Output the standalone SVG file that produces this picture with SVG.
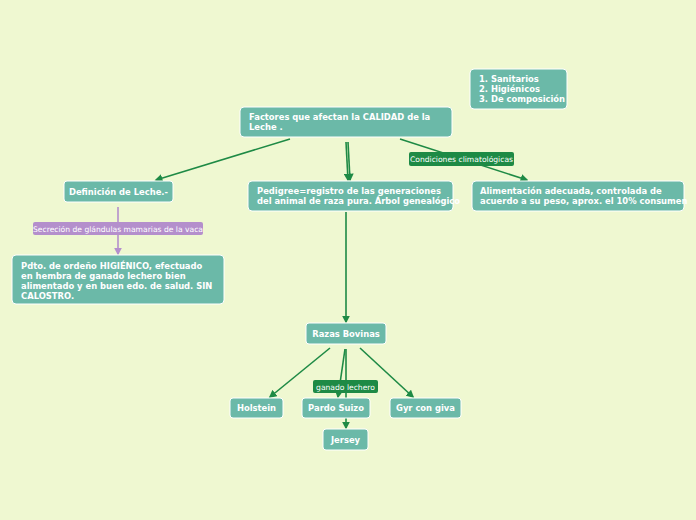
<svg xmlns="http://www.w3.org/2000/svg" width="696" height="520" viewBox="0 0 696 520">
<defs>
<style>
.n{fill:#6bb9a8;stroke:#fff;stroke-width:1}
.t{font-family:"DejaVu Sans",sans-serif;font-weight:bold;font-size:8.4px;fill:#fff}
.l{font-family:"DejaVu Sans",sans-serif;font-size:7.6px;fill:#fff}
.c{stroke:#1e8a45;stroke-width:1.6;fill:none;marker-end:url(#a)}
.p{stroke:#b48fcc;stroke-width:1.6;fill:none;marker-end:url(#ap)}
</style>
<marker id="a" viewBox="0 0 10 10" refX="8" refY="5" markerWidth="5" markerHeight="5" orient="auto"><path d="M0,0L10,5L0,10z" fill="#1e8a45"/></marker>
<marker id="ap" viewBox="0 0 10 10" refX="8" refY="5" markerWidth="5" markerHeight="5" orient="auto"><path d="M0,0L10,5L0,10z" fill="#b48fcc"/></marker>
</defs>
<rect width="696" height="520" fill="#eff8d1"/>
<g id="connectors">
<path class="c" d="M290,139L156,180"/>
<path class="c" d="M346,142L348,180"/>
<path class="c" d="M348,142L350,180"/>
<path class="c" d="M400,139L527,180"/>
<path class="p" d="M118,207L118,254"/>
<path class="c" d="M346,212L346,322"/>
<path class="c" d="M330,348L270,397"/>
<path class="c" d="M345,349L338,397"/>
<path class="c" d="M346,349L346,428"/>
<path class="c" d="M360,348L413,397"/>
<rect x="409" y="152" width="105" height="14" rx="2" fill="#1e8a45"/>
<text class="l" x="461.5" y="162" text-anchor="middle">Condiciones climatológicas</text>
<rect x="33" y="222" width="170" height="13" rx="2" fill="#b48fcc"/>
<text class="l" x="118" y="231.5" text-anchor="middle">Secreción de glándulas mamarias de la vaca</text>
<rect x="313" y="380" width="65" height="13" rx="2" fill="#1e8a45"/>
<text class="l" x="345.5" y="389.5" text-anchor="middle">ganado lechero</text>
</g>
<g id="factores"><rect class="n" x="240" y="107" width="212" height="30" rx="4"/><text class="t" x="249" y="120">Factores que afectan la CALIDAD de la</text><text class="t" x="249" y="130">Leche .</text></g>
<g id="tipos"><rect class="n" x="470" y="69" width="97" height="40" rx="4"/><text class="t" x="479" y="82">1. Sanitarios</text><text class="t" x="479" y="92">2. Higiénicos</text><text class="t" x="479" y="102">3. De composición</text></g>
<g id="definicion"><rect class="n" x="64" y="181" width="109" height="21" rx="3"/><text class="t" x="118.5" y="194.5" text-anchor="middle">Definición de Leche.-</text></g>
<g id="pedigree"><rect class="n" x="248" y="181" width="205" height="30" rx="4"/><text class="t" x="257" y="194">Pedigree=registro de las generaciones</text><text class="t" x="257" y="204">del animal de raza pura. Árbol genealógico</text></g>
<g id="alimentacion"><rect class="n" x="472" y="181" width="212" height="30" rx="4"/><text class="t" x="480" y="194">Alimentación adecuada, controlada de</text><text class="t" x="480" y="204">acuerdo a su peso, aprox. el 10% consumen</text></g>
<g id="pdto"><rect class="n" x="12" y="255" width="212" height="49" rx="4"/><text class="t" x="21" y="269">Pdto. de ordeño HIGIÉNICO, efectuado</text><text class="t" x="21" y="279">en hembra de ganado lechero bien</text><text class="t" x="21" y="289">alimentado y en buen edo. de salud. SIN</text><text class="t" x="21" y="299">CALOSTRO.</text></g>
<g id="razas"><rect class="n" x="306" y="323" width="80" height="21" rx="3"/><text class="t" x="346" y="336.5" text-anchor="middle">Razas Bovinas</text></g>
<g id="holstein"><rect class="n" x="230" y="398" width="53" height="20" rx="3"/><text class="t" x="256.5" y="411" text-anchor="middle">Holstein</text></g>
<g id="pardo"><rect class="n" x="302" y="398" width="68" height="20" rx="3"/><text class="t" x="336" y="411" text-anchor="middle">Pardo Suizo</text></g>
<g id="gyr"><rect class="n" x="390" y="398" width="71" height="20" rx="3"/><text class="t" x="425.5" y="411" text-anchor="middle">Gyr con giva</text></g>
<g id="jersey"><rect class="n" x="323" y="429" width="45" height="21" rx="3"/><text class="t" x="345.5" y="442.5" text-anchor="middle">Jersey</text></g>
</svg>
